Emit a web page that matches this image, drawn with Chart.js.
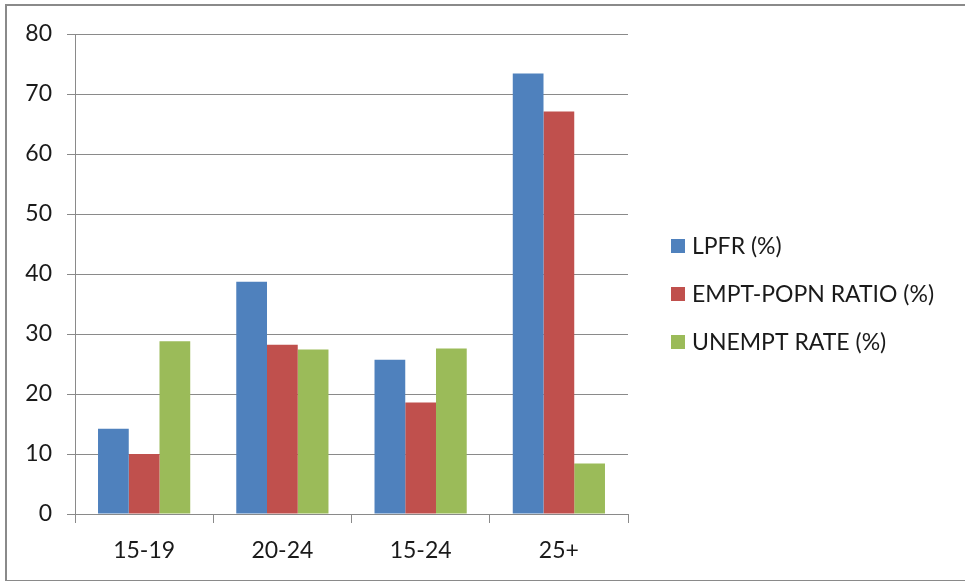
<!DOCTYPE html>
<html>
<head>
<meta charset="utf-8">
<script src="https://cdn.jsdelivr.net/npm/chart.js@4/dist/chart.umd.min.js"></script>
<style>
    html, body { margin: 0; padding: 0; background: #ffffff; }
    #wrap { position: relative; width: 965px; height: 581px; overflow: hidden; }
    #frame {
        position: absolute; left: 5px; top: 4px; width: 1000px; height: 574px;
        border-top: 2px solid #8a8a8a; border-left: 2px solid #8a8a8a; border-bottom: 2px solid #8a8a8a;
    }
    canvas { position: absolute; left: 0; top: 0; }
</style>
</head>
<body>
<div id="wrap">
    <div id="frame"></div>
    <canvas id="chart" width="965" height="581"></canvas>
</div>
<script>
    // age groups
    const categories = ['15-19', '20-24', '15-24', '25+'];

    // values
    const lpfr = [14.2, 38.7, 25.7, 73.4];
    const emptPopnRatio = [10.0, 28.2, 18.6, 67.1];
    const unemptRate = [28.8, 27.4, 27.6, 8.4];

    const seriesNames = ['LPFR (%)', 'EMPT-POPN RATIO (%)', 'UNEMPT RATE (%)'];
    const seriesColors = ['#4F81BD', '#C0504D', '#9BBB59'];

    const fontFamily = "Lato, 'Open Sans', sans-serif";
    const textColor = '#1a1a1a';
    const gridColor = '#8a8a8a';

    // legend drawn by hand at the right, like the original
    const sideLegend = {
        id: 'sideLegend',
        afterDraw(chart) {
            const ctx = chart.ctx;
            ctx.save();
            ctx.font = '23px ' + fontFamily;
            ctx.textBaseline = 'middle';
            ctx.textAlign = 'left';
            chart.data.datasets.forEach((ds, i) => {
                const y = 246 + i * 48;
                ctx.fillStyle = ds.backgroundColor;
                ctx.fillRect(671, y - 7, 14, 14);
                ctx.fillStyle = textColor;
                ctx.fillText(ds.label, 692, y + 1);
            });
            ctx.restore();
        }
    };

    new Chart(document.getElementById('chart'), {
        type: 'bar',
        data: {
            labels: categories,
            datasets: [
                { label: seriesNames[0], data: lpfr, backgroundColor: seriesColors[0] },
                { label: seriesNames[1], data: emptPopnRatio, backgroundColor: seriesColors[1] },
                { label: seriesNames[2], data: unemptRate, backgroundColor: seriesColors[2] }
            ]
        },
        options: {
            responsive: false,
            devicePixelRatio: 1,
            animation: false,
            datasets: {
                bar: { categoryPercentage: 0.667, barPercentage: 1.0, borderWidth: 0 }
            },
            layout: { padding: { left: 0, top: 34, right: 337, bottom: 0 } },
            plugins: {
                legend: { display: false },
                tooltip: { enabled: false }
            },
            scales: {
                x: {
                    offset: true,
                    grid: { offset: true, drawOnChartArea: false, drawTicks: true, tickLength: 9, color: gridColor },
                    border: { color: gridColor },
                    ticks: { color: textColor, font: { family: fontFamily, size: 23 }, padding: 14 },
                    afterFit: (s) => { s.height = 67; }
                },
                y: {
                    min: 0,
                    max: 80,
                    ticks: { stepSize: 10, color: textColor, font: { family: fontFamily, size: 23 }, padding: 15 },
                    grid: { color: gridColor, tickLength: 8 },
                    border: { color: gridColor },
                    afterFit: (s) => { s.width = 75; }
                }
            }
        },
        plugins: [sideLegend]
    });
</script>
</body>
</html>
